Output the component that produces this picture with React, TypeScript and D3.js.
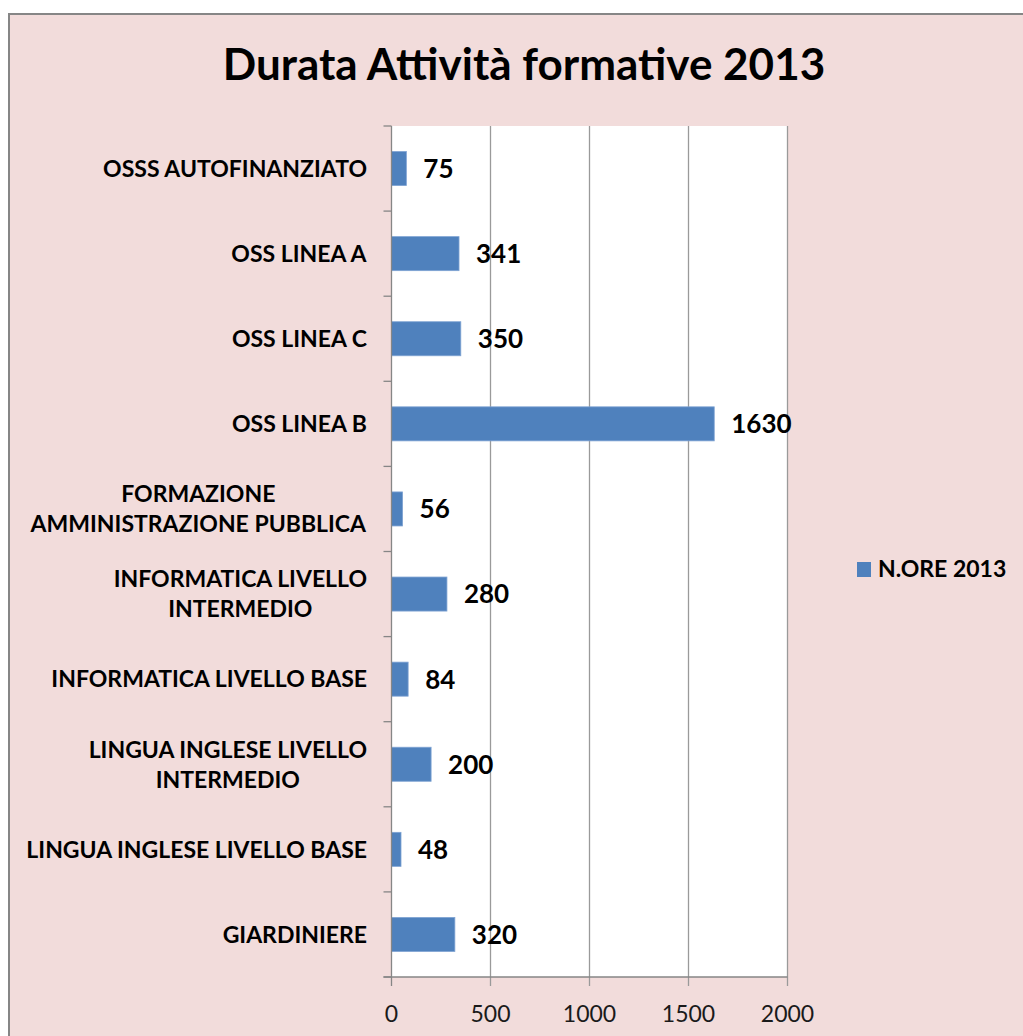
import React, { useEffect, useRef } from "react";
import * as d3 from "d3";

const categories: string[] = [
  "OSSS AUTOFINANZIATO",
  "OSS LINEA A",
  "OSS LINEA C",
  "OSS LINEA B",
  "FORMAZIONE\nAMMINISTRAZIONE PUBBLICA",
  "INFORMATICA LIVELLO\nINTERMEDIO",
  "INFORMATICA LIVELLO BASE",
  "LINGUA INGLESE LIVELLO\nINTERMEDIO",
  "LINGUA INGLESE LIVELLO BASE",
  "GIARDINIERE",
];
const values: number[] = [75, 341, 350, 1630, 56, 280, 84, 200, 48, 320];
const xTicks: number[] = [0, 500, 1000, 1500, 2000];
const title = "Durata Attività formative 2013";
const seriesName = "N.ORE 2013";

const W = 1023;
const H = 1036;
const FONT = "Lato, 'Open Sans', sans-serif";

export default function App() {
  const ref = useRef<SVGSVGElement | null>(null);

  useEffect(() => {
    const svg = d3.select(ref.current);
    svg.selectAll("*").remove();

    const left = 391.5, right = 787.5, top = 126, bottom = 977;
    const x = d3.scaleLinear().domain([0, 2000]).range([left, right]);
    const y = d3.scaleBand<string>().domain(categories).range([top, bottom]).paddingInner(0.6).paddingOuter(0.3);

    // frame
    svg.append("rect").attr("x", 0).attr("y", 0).attr("width", W).attr("height", H).attr("fill", "#ffffff");
    svg.append("rect").attr("x", 9).attr("y", 14).attr("width", W + 40).attr("height", H + 40)
      .attr("fill", "#F2DCDB").attr("stroke", "#868686").attr("stroke-width", 2);

    // title
    svg.append("text").attr("x", 524).attr("y", 80).attr("text-anchor", "middle")
      .attr("font-family", FONT).attr("font-weight", "bold").attr("font-size", 44).attr("fill", "#000")
      .text(title);

    // plot area
    svg.append("rect").attr("x", left).attr("y", top).attr("width", right - left).attr("height", bottom - top).attr("fill", "#ffffff");

    // gridlines
    svg.append("g").selectAll("line").data(xTicks.slice(1)).join("line")
      .attr("x1", d => x(d)).attr("x2", d => x(d)).attr("y1", top).attr("y2", bottom + 9)
      .attr("stroke", "#9a9a9a").attr("stroke-width", 1.3);

    // bars
    svg.append("g").selectAll("rect").data(categories).join("rect")
      .attr("x", x(0)).attr("y", d => y(d)!)
      .attr("width", (d, i) => x(values[i]) - x(0)).attr("height", y.bandwidth())
      .attr("fill", "#4F81BD").attr("stroke", "#7FA3D3").attr("stroke-width", 0.8);

    // value labels
    svg.append("g").selectAll("text").data(categories).join("text")
      .attr("x", (d, i) => x(values[i]) + 17).attr("y", d => y(d)! + y.bandwidth() / 2)
      .attr("dy", "0.36em").attr("font-family", FONT).attr("font-weight", "bold").attr("font-size", 26).attr("fill", "#000")
      .text((d, i) => String(values[i]));

    // axes
    const boundaries = d3.range(categories.length + 1).map(i => top + (i * (bottom - top)) / categories.length);
    svg.append("line").attr("x1", left).attr("x2", left).attr("y1", top).attr("y2", bottom + 9).attr("stroke", "#868686").attr("stroke-width", 1.3);
    svg.append("line").attr("x1", left - 8).attr("x2", right).attr("y1", bottom).attr("y2", bottom).attr("stroke", "#868686").attr("stroke-width", 1.3);
    svg.append("g").selectAll("line").data(boundaries).join("line")
      .attr("x1", left - 8).attr("x2", left).attr("y1", d => d).attr("y2", d => d).attr("stroke", "#868686").attr("stroke-width", 1.3);

    // x tick labels
    svg.append("g").selectAll("text").data(xTicks).join("text")
      .attr("x", d => x(d)).attr("y", 1022).attr("text-anchor", "middle")
      .attr("font-family", FONT).attr("font-size", 23).attr("fill", "#1a1a1a").text(d => String(d));

    // category labels
    const lab = svg.append("g");
    categories.forEach(c => {
      const lines = c.split("\n");
      const cy = y(c)! + y.bandwidth() / 2;
      const lh = 30;
      const t = lab.append("text").attr("font-family", FONT).attr("font-weight", "bold").attr("font-size", 23)
        .attr("fill", "#000").attr("text-anchor", "middle");
      lines.forEach((ln, i) => {
        t.append("tspan").attr("x", 0).attr("y", cy + (i - (lines.length - 1) / 2) * lh).attr("dy", "0.36em").text(ln);
      });
      const bw = (t.node() as SVGTextElement).getBBox().width;
      t.attr("transform", `translate(${367 - bw / 2},0)`);
    });

    // legend
    svg.append("rect").attr("x", 857).attr("y", 562).attr("width", 14).attr("height", 15).attr("fill", "#4F81BD");
    svg.append("text").attr("x", 878).attr("y", 577).attr("font-family", FONT).attr("font-weight", "bold")
      .attr("font-size", 23).attr("fill", "#000").text(seriesName);
  }, []);

  return (
    <svg ref={ref} width={W} height={H} style={{ position: "absolute", left: 0, top: 0, display: "block" }} />
  );
}
